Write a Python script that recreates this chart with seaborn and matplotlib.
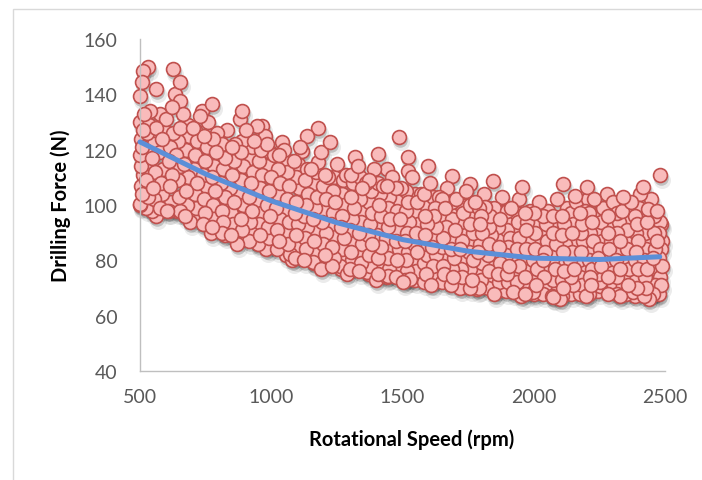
import matplotlib
matplotlib.use('Agg')
import matplotlib.pyplot as plt
import seaborn as sns
import pandas as pd
from matplotlib.transforms import offset_copy
from matplotlib.patches import Rectangle

# ---- data (rpm, drilling force N) ----
pts_a = [
 (500,100),(507,104),(502,107),(510,111),(504,114),(500,118),(508,121),(503,124),(511,127),(501,130),
 (522,99),(529,103),(524,109),(531,115),(520,120),(527,126),(533,129),
 (546,98),(553,102),(548,106),(556,112),(545,117),(551,123),(558,127),
 (577,99),(584,104),(579,108),(588,113),(575,119),(582,124),(589,128),
 (611,98),(618,101),(613,107),(622,111),(609,116),(616,121),(624,126),
 (641,98),(648,103),(643,109),(652,114),(639,118),(646,123),(654,128),
 (671,96),(679,100),(674,105),(684,110),(669,115),(677,120),(686,125),(681,129),
 (706,95),(713,99),(708,104),(717,108),(704,113),(711,118),(719,123),(709,127),
 (741,93),(748,97),(743,102),(752,107),(739,111),(746,116),(754,121),(744,125),
 (776,92),(783,96),(778,100),(787,105),(774,110),(781,114),(789,119),(779,124),
 (811,90),(818,94),(813,98),(822,103),(809,108),(816,113),(824,117),(814,122),
 (846,89),(853,93),(848,97),(857,101),(844,106),(851,111),(859,116),(849,121),
 (881,88),(888,91),(883,95),(892,100),(879,104),(886,109),(894,114),(884,119),(890,123),
 (916,87),(923,90),(918,94),(927,98),(914,103),(921,108),(929,112),(919,117),(925,121),
 (951,86),(958,89),(953,93),(962,97),(949,101),(956,106),(964,111),(954,116),(960,120),
]
pts_b = [
 (986,85),(993,88),(988,92),(997,96),(984,100),(991,105),(999,110),(989,114),(995,119),
 (1021,84),(1028,87),(1023,91),(1032,95),(1019,99),(1026,104),(1034,108),(1024,113),(1030,118),
 (1056,82),(1063,86),(1058,90),(1067,94),(1054,98),(1061,102),(1069,107),(1059,112),(1065,116),
 (1091,81),(1098,85),(1093,89),(1102,93),(1089,97),(1096,101),(1104,106),(1094,110),(1100,115),
 (1126,80),(1133,84),(1128,88),(1137,92),(1124,96),(1131,100),(1139,104),(1129,109),(1135,113),
 (1161,79),(1168,83),(1163,87),(1172,91),(1159,95),(1166,99),(1174,103),(1164,108),(1170,112),
 (1196,79),(1203,82),(1198,86),(1207,90),(1194,94),(1201,98),(1209,102),(1199,107),(1205,111),
 (1231,78),(1238,81),(1233,85),(1242,89),(1229,93),(1236,97),(1244,101),(1234,105),(1240,110),
 (1266,77),(1273,80),(1268,84),(1277,88),(1264,92),(1271,96),(1279,100),(1269,104),(1275,109),
 (1301,77),(1308,80),(1303,83),(1312,87),(1299,91),(1306,95),(1314,99),(1304,103),(1310,108),(1302,111),
 (1336,76),(1343,79),(1338,83),(1347,86),(1334,90),(1341,94),(1349,98),(1339,102),(1345,106),(1337,110),
 (1371,75),(1378,78),(1373,82),(1382,86),(1369,89),(1376,93),(1384,97),(1374,101),(1380,105),(1372,109),
 (1406,75),(1413,78),(1408,81),(1417,85),(1404,89),(1411,92),(1419,96),(1409,100),(1415,104),(1407,108),
 (1441,74),(1448,77),(1443,81),(1452,84),(1439,88),(1446,92),(1454,95),(1444,99),(1450,103),(1442,107),
 (1476,74),(1483,77),(1478,80),(1487,84),(1474,87),(1481,91),(1489,95),(1479,98),(1485,102),(1477,106),
]
pts_c = [
 (1511,73),(1518,76),(1513,80),(1522,83),(1509,87),(1516,90),(1524,94),(1514,98),(1520,101),(1512,105),
 (1546,73),(1553,76),(1548,79),(1557,83),(1544,86),(1551,90),(1559,93),(1549,97),(1555,101),(1547,104),
 (1581,72),(1588,75),(1583,79),(1592,82),(1579,86),(1586,89),(1594,93),(1584,96),(1590,100),(1582,104),
 (1616,72),(1623,75),(1618,78),(1627,82),(1614,85),(1621,89),(1629,92),(1619,96),(1625,99),(1617,103),
 (1651,72),(1658,75),(1653,78),(1662,81),(1649,85),(1656,88),(1664,92),(1654,95),(1660,99),(1652,102),
 (1686,71),(1693,74),(1688,77),(1697,81),(1684,84),(1691,88),(1699,91),(1689,95),(1695,98),(1687,101),
 (1721,71),(1728,74),(1723,77),(1732,80),(1719,84),(1726,87),(1734,91),(1724,94),(1730,97),(1722,100),
 (1756,70),(1763,73),(1758,77),(1767,80),(1754,83),(1761,87),(1769,90),(1759,93),(1765,97),(1757,100),
 (1791,70),(1798,73),(1793,76),(1802,79),(1789,83),(1796,86),(1804,90),(1794,93),(1800,96),(1792,99),
 (1826,70),(1833,73),(1828,76),(1837,79),(1824,82),(1831,86),(1839,89),(1829,92),(1835,96),(1827,99),
 (1861,69),(1868,72),(1863,75),(1872,79),(1859,82),(1866,85),(1874,89),(1864,92),(1870,95),(1862,98),
 (1896,69),(1903,72),(1898,75),(1907,78),(1894,82),(1901,85),(1909,88),(1899,91),(1905,95),(1897,98),
 (1931,69),(1938,72),(1933,75),(1942,78),(1929,81),(1936,84),(1944,88),(1934,91),(1940,94),(1932,97),
 (1966,68),(1973,71),(1968,74),(1977,78),(1964,81),(1971,84),(1979,87),(1969,91),(1975,94),(1967,97),
]
pts_d = [
 (2001,68),(2008,71),(2003,74),(2012,77),(1999,80),(2006,84),(2014,87),(2004,90),(2010,94),(2002,97),
 (2036,68),(2043,71),(2038,74),(2047,77),(2034,80),(2041,83),(2049,87),(2039,90),(2045,93),(2037,96),
 (2071,67),(2078,70),(2073,73),(2082,77),(2069,80),(2076,83),(2084,86),(2074,90),(2080,93),(2072,96),
 (2106,67),(2113,70),(2108,73),(2117,76),(2104,80),(2111,83),(2119,86),(2109,89),(2115,93),(2107,96),
 (2141,68),(2148,71),(2143,74),(2152,77),(2139,80),(2146,83),(2154,86),(2144,90),(2150,93),(2142,97),
 (2176,68),(2183,71),(2178,74),(2187,77),(2174,80),(2181,83),(2189,87),(2179,90),(2185,93),(2177,97),
 (2211,68),(2218,71),(2213,74),(2222,77),(2209,80),(2216,83),(2224,87),(2214,90),(2220,94),(2212,97),
 (2246,69),(2253,72),(2248,75),(2257,78),(2244,81),(2251,84),(2259,87),(2249,90),(2255,94),(2247,97),
 (2281,68),(2288,71),(2283,74),(2292,77),(2279,80),(2286,84),(2294,87),(2284,90),(2290,93),(2282,96),
 (2316,68),(2323,71),(2318,74),(2327,77),(2314,80),(2321,84),(2329,87),(2319,90),(2325,94),(2317,97),
 (2351,68),(2358,71),(2353,74),(2362,77),(2349,81),(2356,84),(2364,87),(2354,91),(2360,94),(2352,97),
 (2386,67),(2393,70),(2388,73),(2397,77),(2384,80),(2391,83),(2399,87),(2389,90),(2395,93),(2387,96),
 (2421,67),(2428,70),(2423,74),(2432,77),(2419,80),(2426,84),(2434,87),(2424,90),(2430,94),(2422,98),
 (2456,68),(2463,71),(2458,74),(2467,77),(2454,81),(2461,84),(2469,87),(2459,90),(2465,93),(2457,96),
 (2478,68),(2485,71),(2480,74),(2487,78),(2476,81),(2483,84),(2488,87),(2479,90),(2486,93),
]
# ragged upper edge of the cloud
pts_upper = [
 (515,133),(560,128),(598,131),(665,133),(700,128),(760,130),(795,126),(830,127),(862,122),
 (905,127),(935,123),(975,125),(1010,118),(1050,120),(1085,116),(1110,121),(1150,113),(1190,119),
 (1215,110),(1250,115),(1285,111),(1330,114),(1360,108),(1390,113),(1425,107),(1460,110),(1495,106),
 (1535,110),(1570,104),(1605,108),(1640,103),(1670,106),(1705,102),(1740,105),(1775,101),(1810,104),
 (1850,99),(1880,103),(1915,99),(1945,102),(1985,98),(2020,101),(2055,98),(2090,102),(2125,99),
 (2160,101),(2195,98),(2230,102),(2265,99),(2300,101),(2335,98),(2370,101),(2400,99),(2445,102),
 (2470,98),
]
# ragged lower edge of the cloud
pts_lower = [
 (560,96),(690,94),(770,90),(870,86),(980,84),(1080,80),(1190,77),(1290,75),(1400,73),(1500,72),
 (1610,71),(1720,70),(1850,68),(1950,67),(2100,66),(2200,67),(2330,67),(2440,66),
]
pts_outer = [
 (511,148.4),(530,149.9),(508,144.5),(500,139.4),(561,142),(626,149),(652,144.5),(633,140),
 (652,137.6),(622,135.4),(538,134),(576,133),(774,136.5),(736,134),(729,132),(889,134),(881,131),
 (965,128.6),(946,128.6),(1178,128),(1136,125),(1041,122.8),(984,122),(1224,122.8),(1117,119.5),
 (1178,115.6),(1319,117.4),(1407,118.4),(1441,113),(1487,124.6),(1521,117.4),(1597,114),
 (1521,112.3),(1689,110.5),(1757,107.6),(1845,108.7),(1955,106.5),(1814,99.3),(2111,107.6),
 (2203,106.5),(2157,103.3),(2207,102.2),(2279,104),(2340,102.9),(2416,106.5),(2405,104),
 (2435,98.6),(2481,111),(2481,93.9),
 (500,100.4),(546,98.6),(652,98),(603,98),(740,94),(824,89),(946,86.6),(1071,82.3),(1159,79.4),
 (1262,78),(1365,75.8),(1445,74.4),(1529,73.3),(1674,72.5),(1784,69.6),(1921,68.5),(1997,68.5),
 (2074,66.8),(2169,69),(2253,70.7),(2379,68.5),(2469,68.5),
]

# polynomial trendline
trend_rpm = [500, 750, 1000, 1250, 1500, 1750, 2000, 2250, 2480]
trend_force = [122.8, 111.2, 101.5, 93.6, 87.5, 83.3, 80.8, 80.3, 81.3]

x_ticks = [500, 1000, 1500, 2000, 2500]
y_ticks = [40, 60, 80, 100, 120, 140, 160]
x_title = 'Rotational Speed (rpm)'
y_title = 'Drilling Force (N)'

# ---- figure ----
sns.set_theme(style='white')
plt.rcParams['font.family'] = ['Lato', 'DejaVu Sans']

all_pts = pts_a + pts_b + pts_c + pts_d + pts_upper + pts_lower + pts_outer
df = pd.DataFrame(all_pts, columns=['rpm', 'force'])
# mix the drawing order only (values unchanged) so the overlaps look like the original
df = df.sample(frac=1.0, random_state=7).reset_index(drop=True)

fig = plt.figure(figsize=(7.02, 4.81), dpi=100)
fig.patch.set_facecolor('white')
ax = fig.add_axes([140/702, 1-372/481, 525/702, 332/481])
ax.set_facecolor('white')

# soft drop shadow: a wide faint layer and a tighter darker one
shadow_wide = offset_copy(ax.transData, fig=fig, x=2, y=-5, units='dots')
shadow_tight = offset_copy(ax.transData, fig=fig, x=1, y=-3, units='dots')
sns.scatterplot(data=df, x='rpm', y='force', ax=ax, s=150, color='black', alpha=0.08,
                linewidth=0, transform=shadow_wide, clip_on=False, legend=False, zorder=1)
sns.scatterplot(data=df, x='rpm', y='force', ax=ax, s=110, color='black', alpha=0.18,
                linewidth=0, transform=shadow_tight, clip_on=False, legend=False, zorder=1)
sns.scatterplot(data=df, x='rpm', y='force', ax=ax, s=100, color='#F9BBBB',
                edgecolor='#C0504D', linewidth=1.2, clip_on=False, legend=False, zorder=2)
sns.lineplot(x=trend_rpm, y=trend_force, ax=ax, color='#5B8FD8', linewidth=3.6,
             zorder=3, clip_on=False)

ax.set_xlim(500, 2500)
ax.set_ylim(40, 160)
ax.set_xticks(x_ticks)
ax.set_yticks(y_ticks)
ax.set_xlabel('')
ax.set_ylabel('')
for s in ['top', 'right']:
    ax.spines[s].set_visible(False)
for s in ['left', 'bottom']:
    ax.spines[s].set_color('#BFBFBF')
    ax.spines[s].set_linewidth(1.0)
ax.grid(False)
ax.tick_params(axis='both', length=0, labelsize=14, labelcolor='#595959')
ax.tick_params(axis='x', pad=12)
ax.tick_params(axis='y', pad=16)

fig.text(412/702, 1-440/481, x_title, ha='center', va='center', fontsize=14.5,
         fontweight='bold', color='black')
fig.text(61/702, 1-206/481, y_title, ha='center', va='center', rotation=90,
         fontsize=14.5, fontweight='bold', color='black')

fig.add_artist(Rectangle((13/702, -0.1), 1.2, 1-10/481+0.1, transform=fig.transFigure,
                         fill=False, edgecolor='#D9D9D9', linewidth=1.0))

fig.savefig('out.png', dpi=100, facecolor='white')
